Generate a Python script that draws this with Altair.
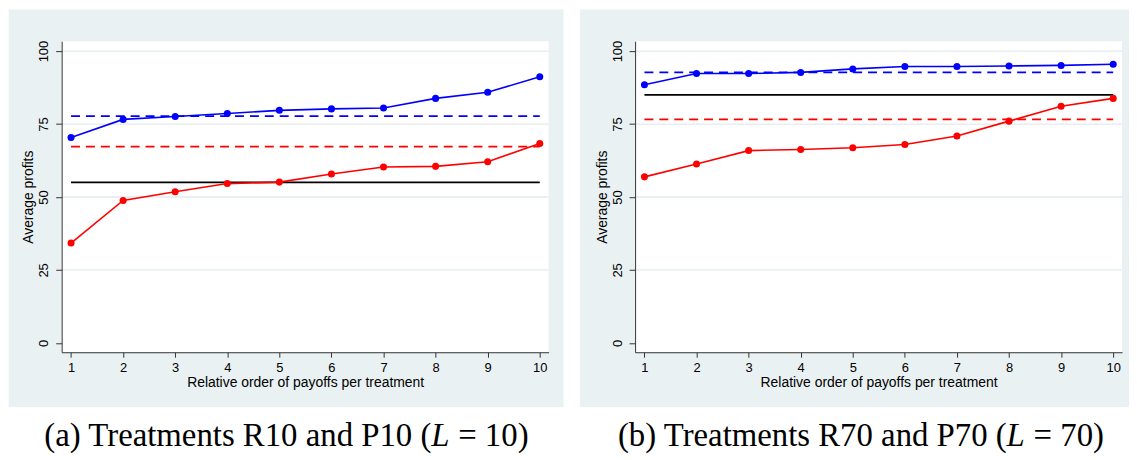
import altair as alt
import pandas as pd

# ---- data ----
orders = [1, 2, 3, 4, 5, 6, 7, 8, 9, 10]

r10_blue = [70.4, 76.6, 77.6, 78.6, 79.7, 80.2, 80.5, 83.8, 85.9, 91.2]
r10_red = [34.2, 48.8, 51.8, 54.6, 55.1, 57.9, 60.3, 60.5, 62.1, 68.3]
r10_blue_ref = 77.7
r10_red_ref = 67.3
r10_black_ref = 55.0

r70_blue = [88.5, 92.3, 92.3, 92.7, 93.9, 94.7, 94.7, 94.9, 95.1, 95.5]
r70_red = [56.9, 61.3, 65.9, 66.3, 66.9, 68.0, 70.9, 76.0, 81.1, 83.8]
r70_blue_ref = 92.7
r70_red_ref = 76.6
r70_black_ref = 85.0

y_ticks = [0, 25, 50, 75, 100]
grid_vals = [25, 50, 75, 100]

x_title = "Relative order of payoffs per treatment"
y_title = "Average profits"

captions = [
    ("(a) Treatments R10 and P10 (", "L", "= 10)"),
    ("(b) Treatments R70 and P70 (", "L", "= 70)"),
]

# ---- styling ----
W = 490
H = 313
BG = "#eaf1f3"
BLUE = "#0000ff"
RED = "#ff0000"
SANS = "Liberation Sans"
SERIF = "Liberation Serif"

xs = alt.Scale(domain=[0.82, 10.17], nice=False, zero=False)
ys = alt.Scale(domain=[-3.2, 103.4], nice=False, zero=False)

X_AXIS = alt.Axis(
    values=orders, format="d", title=x_title,
    grid=False, tickSize=5, labelPadding=4, titlePadding=1,
    domainColor="#333333", tickColor="#333333", labelColor="#000000",
    labelFont=SANS, labelFontSize=13, titleFont=SANS, titleFontSize=14,
    titleFontWeight="normal", titleColor="#000000", zindex=1,
)
Y_AXIS = alt.Axis(
    values=y_ticks, title=y_title, grid=False, tickSize=6,
    labelPadding=5, labelAngle=270, labelAlign="center", labelBaseline="bottom",
    titlePadding=2, domainColor="#333333", tickColor="#333333", labelColor="#000000",
    labelFont=SANS, labelFontSize=13, titleFont=SANS, titleFontSize=14,
    titleFontWeight="normal", titleColor="#000000", zindex=1,
)
CAP_SIZE = 33


def panel(blue, red, blue_ref, red_ref, black_ref, bg_left, bg_right, cap, l_x):
    one = alt.Data(values=[{"k": 1}])
    df = pd.DataFrame({
        "order": orders + orders,
        "profit": blue + red,
        "series": ["blue"] * len(orders) + ["red"] * len(orders),
    })
    refs = pd.DataFrame({
        "x1": [orders[0]] * 3,
        "x2": [orders[-1]] * 3,
        "y": [black_ref, blue_ref, red_ref],
        "kind": ["black", "blue", "red"],
    })
    gdf = pd.DataFrame({"g": grid_vals})

    bg = alt.Chart(one).mark_rect(color=BG).encode(
        x=alt.value(bg_left), x2=alt.value(W + bg_right),
        y=alt.value(-32), y2=alt.value(H + 55),
    )
    plotbg = alt.Chart(one).mark_rect(color="white").encode(
        x=alt.value(0), x2=alt.value(W), y=alt.value(0), y2=alt.value(H),
    )
    grid = alt.Chart(gdf).mark_rule(color="#e3ebee", strokeWidth=1.3).encode(
        y=alt.Y("g:Q", scale=ys, axis=Y_AXIS), x=alt.value(0), x2=alt.value(W),
    )
    black = alt.Chart(refs).transform_filter("datum.kind == 'black'").mark_rule(
        color="#000000", strokeWidth=1.8
    ).encode(
        x=alt.X("x1:Q", scale=xs, axis=X_AXIS), x2="x2:Q",
        y=alt.Y("y:Q", scale=ys, axis=Y_AXIS),
    )
    dashes = alt.Chart(refs).transform_filter("datum.kind != 'black'").mark_rule(
        strokeWidth=1.8, strokeDash=[9, 6]
    ).encode(
        x=alt.X("x1:Q", scale=xs, axis=X_AXIS), x2="x2:Q",
        y=alt.Y("y:Q", scale=ys, axis=Y_AXIS),
        color=alt.Color("kind:N", scale=alt.Scale(domain=["blue", "red"], range=[BLUE, RED]), legend=None),
    )
    lines = alt.Chart(df).mark_line(
        strokeWidth=1.6, point=alt.OverlayMarkDef(filled=True, size=50, opacity=1)
    ).encode(
        x=alt.X("order:Q", scale=xs, axis=X_AXIS),
        y=alt.Y("profit:Q", scale=ys, axis=Y_AXIS),
        color=alt.Color("series:N", scale=alt.Scale(domain=["blue", "red"], range=[BLUE, RED]), legend=None),
        detail="series:N",
    )
    cy = H + 84
    cap1 = alt.Chart(one).mark_text(
        text=cap[0], font=SERIF, fontSize=CAP_SIZE, align="right", baseline="middle", color="#000000"
    ).encode(x=alt.value(l_x - 9), y=alt.value(cy))
    cap2 = alt.Chart(one).mark_text(
        text=cap[1], font=SERIF, fontSize=CAP_SIZE, fontStyle="italic", align="center", baseline="middle", color="#000000"
    ).encode(x=alt.value(l_x), y=alt.value(cy))
    cap3 = alt.Chart(one).mark_text(
        text=cap[2], font=SERIF, fontSize=CAP_SIZE, align="left", baseline="middle", color="#000000"
    ).encode(x=alt.value(l_x + 18), y=alt.value(cy))

    return alt.layer(bg, plotbg, grid, black, dashes, lines, cap1, cap2, cap3).properties(width=W, height=H)


left = panel(r10_blue, r10_red, r10_blue_ref, r10_red_ref, r10_black_ref, -53.3, 15, captions[0], 381)
right = panel(r70_blue, r70_red, r70_blue_ref, r70_red_ref, r70_black_ref, -55.3, 7, captions[1], 383)

chart = alt.hconcat(left, right, spacing=16).properties(padding=0).configure_view(stroke=None)

chart.save("out.html", embed_options={"renderer": "svg", "actions": False})
